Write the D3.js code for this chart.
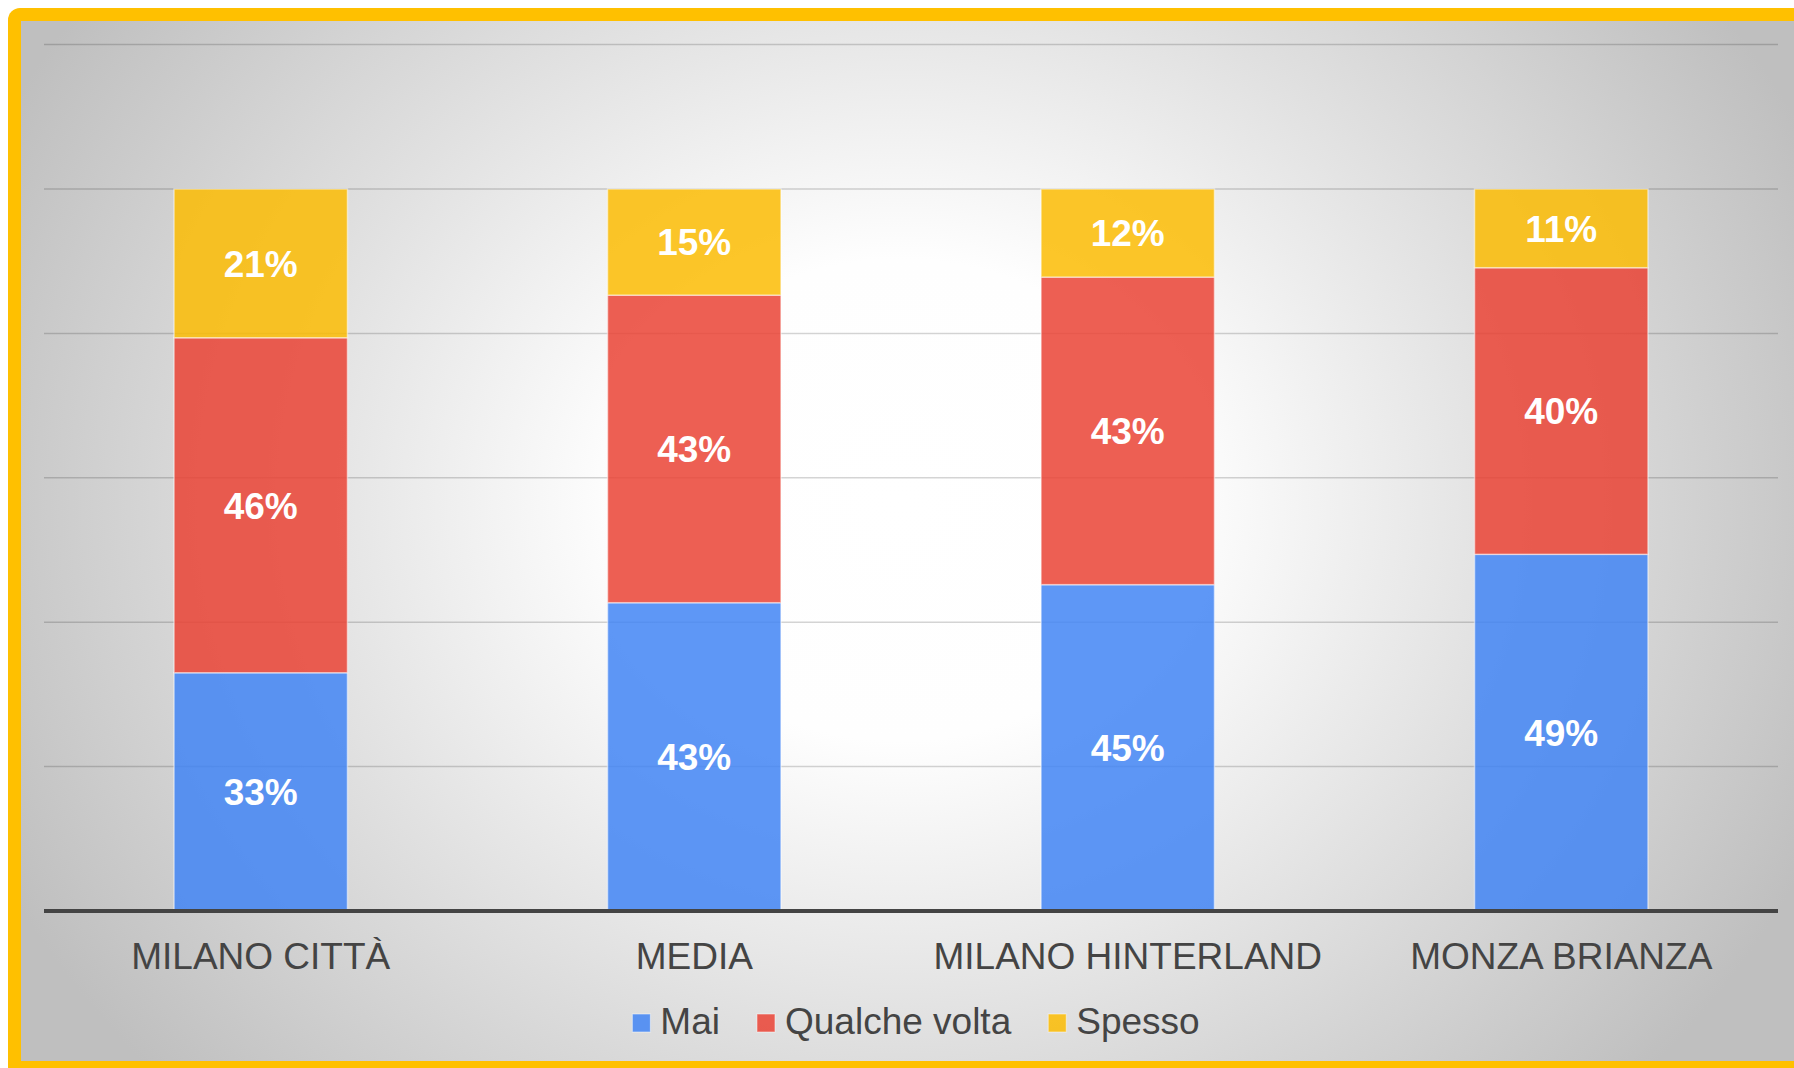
<!DOCTYPE html>
<html>
<head>
<meta charset="utf-8">
<script src="https://cdn.jsdelivr.net/npm/d3@7"></script>
<style>
  html, body { margin: 0; padding: 0; background: #fff; }
  svg { display: block; }
  text { font-family: "Liberation Sans", Arial, sans-serif; }
</style>
</head>
<body>
<svg id="chart" width="1794" height="1068"></svg>
<script>
// data (shares in %)
const categories = ['MILANO CITTÀ', 'MEDIA', 'MILANO HINTERLAND', 'MONZA BRIANZA'];
const seriesNames = ['Mai', 'Qualche volta', 'Spesso'];
const mai = [33, 42.7, 45.2, 49.4];
const qualcheVolta = [46.4, 42.6, 42.6, 39.7];
const spesso = [20.6, 14.7, 12.2, 10.9];
const yTicks = [0.2, 0.4, 0.6, 0.8, 1.0, 1.2];
const colors = ['#4285f4', '#ea4335', '#fbbc04'];

(function(){
  const W = 1794, H = 1068;
  const svg = d3.select('#chart');
  const defs = svg.append('defs');

  // soft radial background like the slide
  const grad = defs.append('radialGradient')
    .attr('id', 'bg')
    .attr('gradientUnits', 'userSpaceOnUse')
    .attr('cx', 900).attr('cy', 500).attr('r', 1000)
    .attr('gradientTransform', 'translate(900,500) scale(1,0.86) translate(-900,-500)');
  grad.append('stop').attr('offset', 0).attr('stop-color', '#ffffff');
  grad.append('stop').attr('offset', 0.28).attr('stop-color', '#fefefe');
  grad.append('stop').attr('offset', 1).attr('stop-color', '#bfbfbf');

  // yellow frame, runs off right/bottom edge
  svg.append('rect').attr('x', 8).attr('y', 8).attr('width', 1820).attr('height', 1080)
    .attr('rx', 12).attr('fill', '#ffc000');
  svg.append('rect').attr('x', 21).attr('y', 21).attr('width', W - 21).attr('height', 1061 - 21)
    .attr('fill', 'url(#bg)');

  const x = d3.scaleBand().domain(categories).range([44, 1778]).paddingInner(0.6).paddingOuter(0.3);
  const y = d3.scaleLinear().domain([0, 1.2]).range([911, 44.6]);

  // gridlines
  svg.append('g').selectAll('line').data(yTicks).join('line')
    .attr('x1', 44).attr('x2', 1778)
    .attr('y1', d => y(d)).attr('y2', d => y(d))
    .attr('stroke', '#000').attr('stroke-opacity', 0.17).attr('stroke-width', 1.5);

  const table = categories.map((c, i) => ({ cat: c, Mai: mai[i] / 100, 'Qualche volta': qualcheVolta[i] / 100, Spesso: spesso[i] / 100 }));
  const stacked = d3.stack().keys(seriesNames)(table);
  const pct = d3.format('.0%');

  const layers = svg.append('g').selectAll('g.layer').data(stacked).join('g')
    .attr('class', 'layer')
    .attr('fill', (d, i) => colors[i]);

  layers.selectAll('rect').data(d => d).join('rect')
    .attr('x', d => x(d.data.cat))
    .attr('width', x.bandwidth())
    .attr('y', d => y(d[1]))
    .attr('height', d => y(d[0]) - y(d[1]))
    .attr('fill-opacity', 0.85)
    .attr('stroke', '#fff').attr('stroke-opacity', 0.5).attr('stroke-width', 1.5);

  layers.selectAll('text').data(d => d).join('text')
    .attr('x', d => x(d.data.cat) + x.bandwidth() / 2)
    .attr('y', d => (y(d[0]) + y(d[1])) / 2)
    .attr('dy', '0.36em')
    .attr('text-anchor', 'middle')
    .attr('fill', '#fff')
    .style('font-size', '37px').style('font-weight', 'bold')
    .text(d => pct(d[1] - d[0]));

  // baseline axis
  svg.append('line').attr('x1', 44).attr('x2', 1778).attr('y1', y(0)).attr('y2', y(0))
    .attr('stroke', '#444').attr('stroke-width', 4);

  const xAxis = svg.append('g').attr('transform', `translate(0,${y(0)})`)
    .call(d3.axisBottom(x).tickSize(0).tickPadding(0));
  xAxis.select('.domain').remove();
  xAxis.selectAll('text')
    .attr('y', 58).attr('dy', 0)
    .attr('fill', '#444')
    .style('font-size', '37px')
    .style('font-family', '"Liberation Sans", Arial, sans-serif');

  // legend
  const legend = svg.append('g');
  let lx = 0;
  seriesNames.forEach((name, i) => {
    const item = legend.append('g').attr('transform', `translate(${lx},0)`);
    item.append('rect').attr('x', 0).attr('y', -20).attr('width', 18).attr('height', 18)
      .attr('fill', colors[i]).attr('fill-opacity', 0.85)
      .attr('stroke', '#fff').attr('stroke-opacity', 0.5).attr('stroke-width', 1);
    const t = item.append('text').attr('x', 28).attr('y', 0)
      .attr('fill', '#444').style('font-size', '37px').text(name);
    lx += 28 + t.node().getComputedTextLength() + 37;
  });
  const lw = lx - 37;
  legend.attr('transform', `translate(${916 - lw / 2},1034)`);
})();
</script>
</body>
</html>
